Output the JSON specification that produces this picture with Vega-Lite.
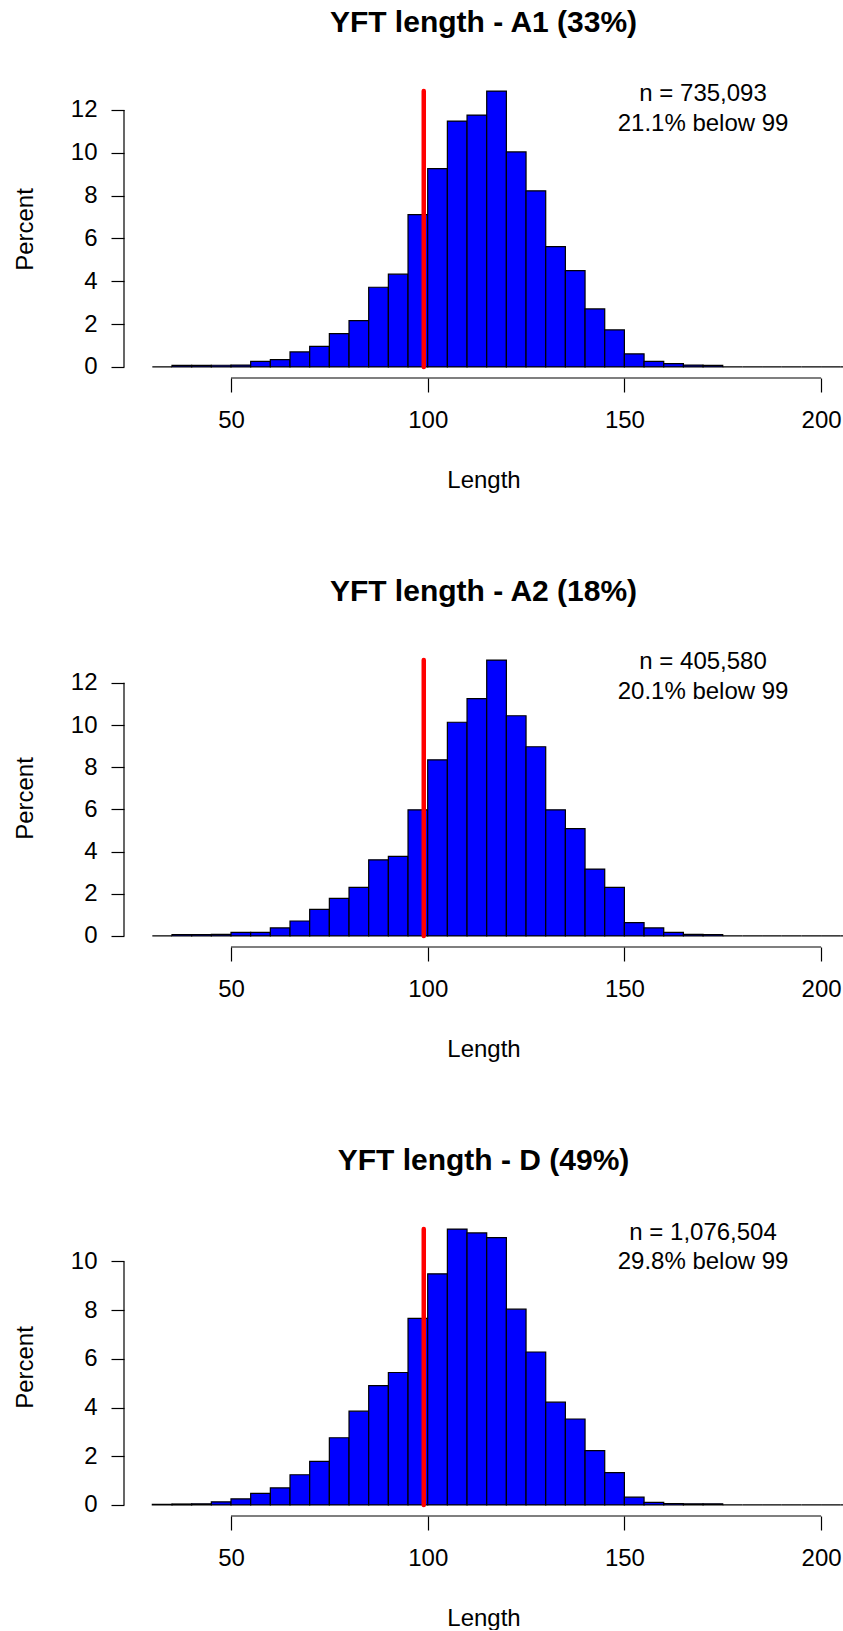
{
  "$schema": "https://vega.github.io/schema/vega-lite/v6.json",
  "padding": {"left": 13, "top": 8, "right": 0, "bottom": 0},
  "datasets": {
    "A1": [
      {"start": 30, "end": 35, "pct": 0}, {"start": 35, "end": 40, "pct": 0.07}, {"start": 40, "end": 45, "pct": 0.07},
      {"start": 45, "end": 50, "pct": 0.08}, {"start": 50, "end": 55, "pct": 0.09}, {"start": 55, "end": 60, "pct": 0.26},
      {"start": 60, "end": 65, "pct": 0.34}, {"start": 65, "end": 70, "pct": 0.70}, {"start": 70, "end": 75, "pct": 0.96},
      {"start": 75, "end": 80, "pct": 1.56}, {"start": 80, "end": 85, "pct": 2.16}, {"start": 85, "end": 90, "pct": 3.72},
      {"start": 90, "end": 95, "pct": 4.33}, {"start": 95, "end": 100, "pct": 7.11}, {"start": 100, "end": 105, "pct": 9.26},
      {"start": 105, "end": 110, "pct": 11.48}, {"start": 110, "end": 115, "pct": 11.76}, {"start": 115, "end": 120, "pct": 12.88},
      {"start": 120, "end": 125, "pct": 10.04}, {"start": 125, "end": 130, "pct": 8.22}, {"start": 130, "end": 135, "pct": 5.62},
      {"start": 135, "end": 140, "pct": 4.50}, {"start": 140, "end": 145, "pct": 2.71}, {"start": 145, "end": 150, "pct": 1.73},
      {"start": 150, "end": 155, "pct": 0.61}, {"start": 155, "end": 160, "pct": 0.26}, {"start": 160, "end": 165, "pct": 0.16},
      {"start": 165, "end": 170, "pct": 0.09}, {"start": 170, "end": 175, "pct": 0.07}, {"start": 175, "end": 180, "pct": 0},
      {"start": 180, "end": 185, "pct": 0}, {"start": 185, "end": 190, "pct": 0}, {"start": 190, "end": 195, "pct": 0},
      {"start": 195, "end": 200, "pct": 0}, {"start": 200, "end": 205, "pct": 0}, {"start": 205, "end": 210, "pct": 0}
    ],
    "A2": [
      {"start": 30, "end": 35, "pct": 0}, {"start": 35, "end": 40, "pct": 0.07}, {"start": 40, "end": 45, "pct": 0.07},
      {"start": 45, "end": 50, "pct": 0.08}, {"start": 50, "end": 55, "pct": 0.17}, {"start": 55, "end": 60, "pct": 0.17},
      {"start": 60, "end": 65, "pct": 0.38}, {"start": 65, "end": 70, "pct": 0.71}, {"start": 70, "end": 75, "pct": 1.26},
      {"start": 75, "end": 80, "pct": 1.78}, {"start": 80, "end": 85, "pct": 2.30}, {"start": 85, "end": 90, "pct": 3.61},
      {"start": 90, "end": 95, "pct": 3.77}, {"start": 95, "end": 100, "pct": 5.98}, {"start": 100, "end": 105, "pct": 8.35},
      {"start": 105, "end": 110, "pct": 10.13}, {"start": 110, "end": 115, "pct": 11.25}, {"start": 115, "end": 120, "pct": 13.08},
      {"start": 120, "end": 125, "pct": 10.44}, {"start": 125, "end": 130, "pct": 8.97}, {"start": 130, "end": 135, "pct": 5.98},
      {"start": 135, "end": 140, "pct": 5.09}, {"start": 140, "end": 145, "pct": 3.17}, {"start": 145, "end": 150, "pct": 2.30},
      {"start": 150, "end": 155, "pct": 0.63}, {"start": 155, "end": 160, "pct": 0.38}, {"start": 160, "end": 165, "pct": 0.17},
      {"start": 165, "end": 170, "pct": 0.08}, {"start": 170, "end": 175, "pct": 0.07}, {"start": 175, "end": 180, "pct": 0},
      {"start": 180, "end": 185, "pct": 0}, {"start": 185, "end": 190, "pct": 0}, {"start": 190, "end": 195, "pct": 0},
      {"start": 195, "end": 200, "pct": 0}, {"start": 200, "end": 205, "pct": 0}, {"start": 205, "end": 210, "pct": 0}
    ],
    "D": [
      {"start": 30, "end": 35, "pct": 0.03}, {"start": 35, "end": 40, "pct": 0.04}, {"start": 40, "end": 45, "pct": 0.05},
      {"start": 45, "end": 50, "pct": 0.13}, {"start": 50, "end": 55, "pct": 0.25}, {"start": 55, "end": 60, "pct": 0.48},
      {"start": 60, "end": 65, "pct": 0.70}, {"start": 65, "end": 70, "pct": 1.24}, {"start": 70, "end": 75, "pct": 1.79},
      {"start": 75, "end": 80, "pct": 2.76}, {"start": 80, "end": 85, "pct": 3.85}, {"start": 85, "end": 90, "pct": 4.90},
      {"start": 90, "end": 95, "pct": 5.44}, {"start": 95, "end": 100, "pct": 7.66}, {"start": 100, "end": 105, "pct": 9.49},
      {"start": 105, "end": 110, "pct": 11.33}, {"start": 110, "end": 115, "pct": 11.17}, {"start": 115, "end": 120, "pct": 10.98},
      {"start": 120, "end": 125, "pct": 8.04}, {"start": 125, "end": 130, "pct": 6.28}, {"start": 130, "end": 135, "pct": 4.22},
      {"start": 135, "end": 140, "pct": 3.53}, {"start": 140, "end": 145, "pct": 2.23}, {"start": 145, "end": 150, "pct": 1.33},
      {"start": 150, "end": 155, "pct": 0.32}, {"start": 155, "end": 160, "pct": 0.11}, {"start": 160, "end": 165, "pct": 0.06},
      {"start": 165, "end": 170, "pct": 0.05}, {"start": 170, "end": 175, "pct": 0.05}, {"start": 175, "end": 180, "pct": 0},
      {"start": 180, "end": 185, "pct": 0}, {"start": 185, "end": 190, "pct": 0}, {"start": 190, "end": 195, "pct": 0},
      {"start": 195, "end": 200, "pct": 0}, {"start": 200, "end": 205, "pct": 0}, {"start": 205, "end": 210, "pct": 0}
    ]
  },
  "vconcat": [
    {
      "width": 719, "height": 298,
      "title": {"text": "YFT length - A1 (33%)"},
      "layer": [
        {
          "data": {"name": "A1"},
          "mark": {"type": "rect", "fill": "#0000ff", "stroke": "#000000", "strokeWidth": 1.2, "clip": true},
          "encoding": {
            "x": {"field": "start", "type": "quantitative", "scale": {"domain": [22.8, 205.57], "nice": false, "zero": false}, "axis": {"values": [50, 100, 150, 200], "title": "Length"}},
            "x2": {"field": "end"},
            "y": {"field": "pct", "type": "quantitative", "scale": {"domain": [-0.515, 13.395], "nice": false, "zero": false}, "axis": {"values": [0, 2, 4, 6, 8, 10, 12], "title": "Percent"}},
            "y2": {"datum": 0}
          }
        },
        {
          "data": {"values": [{}]},
          "mark": {"type": "rule", "color": "#ff0000", "strokeWidth": 4.5, "strokeCap": "round"},
          "encoding": {"x": {"datum": 99, "type": "quantitative"}, "y": {"datum": 0, "type": "quantitative"}, "y2": {"datum": 12.88}}
        },
        {
          "data": {"values": [{}]},
          "mark": {"type": "rule", "color": "#000000", "strokeWidth": 1.2},
          "encoding": {"x": {"datum": 22.8, "type": "quantitative"}, "y": {"datum": 0, "type": "quantitative"}, "y2": {"datum": 12}}
        },
        {
          "data": {"values": [{}]},
          "mark": {"type": "rule", "color": "#000000", "strokeWidth": 1.2},
          "encoding": {"x": {"datum": 50, "type": "quantitative"}, "x2": {"datum": 200}, "y": {"datum": -0.515, "type": "quantitative"}}
        },
        {
          "data": {"values": [{}]},
          "mark": {"type": "text", "text": "n = 735,093", "fontSize": 24, "color": "#000000", "baseline": "middle", "align": "center"},
          "encoding": {"x": {"datum": 170, "type": "quantitative"}, "y": {"datum": 12.76, "type": "quantitative"}}
        },
        {
          "data": {"values": [{}]},
          "mark": {"type": "text", "text": "21.1% below 99", "fontSize": 24, "color": "#000000", "baseline": "middle", "align": "center"},
          "encoding": {"x": {"datum": 170, "type": "quantitative"}, "y": {"datum": 11.36, "type": "quantitative"}}
        }
      ]
    },
    {
      "width": 719, "height": 298,
      "title": {"text": "YFT length - A2 (18%)"},
      "layer": [
        {
          "data": {"name": "A2"},
          "mark": {"type": "rect", "fill": "#0000ff", "stroke": "#000000", "strokeWidth": 1.2, "clip": true},
          "encoding": {
            "x": {"field": "start", "type": "quantitative", "scale": {"domain": [22.8, 205.57], "nice": false, "zero": false}, "axis": {"values": [50, 100, 150, 200], "title": "Length"}},
            "x2": {"field": "end"},
            "y": {"field": "pct", "type": "quantitative", "scale": {"domain": [-0.523, 13.603], "nice": false, "zero": false}, "axis": {"values": [0, 2, 4, 6, 8, 10, 12], "title": "Percent"}},
            "y2": {"datum": 0}
          }
        },
        {
          "data": {"values": [{}]},
          "mark": {"type": "rule", "color": "#ff0000", "strokeWidth": 4.5, "strokeCap": "round"},
          "encoding": {"x": {"datum": 99, "type": "quantitative"}, "y": {"datum": 0, "type": "quantitative"}, "y2": {"datum": 13.08}}
        },
        {
          "data": {"values": [{}]},
          "mark": {"type": "rule", "color": "#000000", "strokeWidth": 1.2},
          "encoding": {"x": {"datum": 22.8, "type": "quantitative"}, "y": {"datum": 0, "type": "quantitative"}, "y2": {"datum": 12}}
        },
        {
          "data": {"values": [{}]},
          "mark": {"type": "rule", "color": "#000000", "strokeWidth": 1.2},
          "encoding": {"x": {"datum": 50, "type": "quantitative"}, "x2": {"datum": 200}, "y": {"datum": -0.523, "type": "quantitative"}}
        },
        {
          "data": {"values": [{}]},
          "mark": {"type": "text", "text": "n = 405,580", "fontSize": 24, "color": "#000000", "baseline": "middle", "align": "center"},
          "encoding": {"x": {"datum": 170, "type": "quantitative"}, "y": {"datum": 12.99, "type": "quantitative"}}
        },
        {
          "data": {"values": [{}]},
          "mark": {"type": "text", "text": "20.1% below 99", "fontSize": 24, "color": "#000000", "baseline": "middle", "align": "center"},
          "encoding": {"x": {"datum": 170, "type": "quantitative"}, "y": {"datum": 11.56, "type": "quantitative"}}
        }
      ]
    },
    {
      "width": 719, "height": 298,
      "title": {"text": "YFT length - D (49%)"},
      "layer": [
        {
          "data": {"name": "D"},
          "mark": {"type": "rect", "fill": "#0000ff", "stroke": "#000000", "strokeWidth": 1.2, "clip": true},
          "encoding": {
            "x": {"field": "start", "type": "quantitative", "scale": {"domain": [22.8, 205.57], "nice": false, "zero": false}, "axis": {"values": [50, 100, 150, 200], "title": "Length"}},
            "x2": {"field": "end"},
            "y": {"field": "pct", "type": "quantitative", "scale": {"domain": [-0.453, 11.783], "nice": false, "zero": false}, "axis": {"values": [0, 2, 4, 6, 8, 10], "title": "Percent"}},
            "y2": {"datum": 0}
          }
        },
        {
          "data": {"values": [{}]},
          "mark": {"type": "rule", "color": "#ff0000", "strokeWidth": 4.5, "strokeCap": "round"},
          "encoding": {"x": {"datum": 99, "type": "quantitative"}, "y": {"datum": 0, "type": "quantitative"}, "y2": {"datum": 11.33}}
        },
        {
          "data": {"values": [{}]},
          "mark": {"type": "rule", "color": "#000000", "strokeWidth": 1.2},
          "encoding": {"x": {"datum": 22.8, "type": "quantitative"}, "y": {"datum": 0, "type": "quantitative"}, "y2": {"datum": 10}}
        },
        {
          "data": {"values": [{}]},
          "mark": {"type": "rule", "color": "#000000", "strokeWidth": 1.2},
          "encoding": {"x": {"datum": 50, "type": "quantitative"}, "x2": {"datum": 200}, "y": {"datum": -0.453, "type": "quantitative"}}
        },
        {
          "data": {"values": [{}]},
          "mark": {"type": "text", "text": "n = 1,076,504", "fontSize": 24, "color": "#000000", "baseline": "middle", "align": "center"},
          "encoding": {"x": {"datum": 170, "type": "quantitative"}, "y": {"datum": 11.17, "type": "quantitative"}}
        },
        {
          "data": {"values": [{}]},
          "mark": {"type": "text", "text": "29.8% below 99", "fontSize": 24, "color": "#000000", "baseline": "middle", "align": "center"},
          "encoding": {"x": {"datum": 170, "type": "quantitative"}, "y": {"datum": 9.97, "type": "quantitative"}}
        }
      ]
    }
  ],
  "config": {
    "font": "Liberation Sans",
    "view": {"stroke": null},
    "concat": {"spacing": 85},
    "axis": {"grid": false, "domain": false, "tickColor": "#000000", "tickWidth": 1.2, "labelColor": "#000000", "labelFontSize": 24, "titleFontSize": 24, "titleFontWeight": "normal", "titleColor": "#000000", "labelFont": "Liberation Sans", "titleFont": "Liberation Sans", "labelFlush": false, "labelOverlap": false, "labelBound": false},
    "axisX": {"tickSize": 14, "labelPadding": 16, "titlePadding": 36},
    "axisY": {"tickSize": 13, "labelPadding": 14, "titlePadding": 33, "labelAngle": 0},
    "title": {"fontSize": 30, "fontWeight": "bold", "color": "#000000", "offset": 42, "anchor": "middle", "font": "Liberation Sans"}
  }
}
